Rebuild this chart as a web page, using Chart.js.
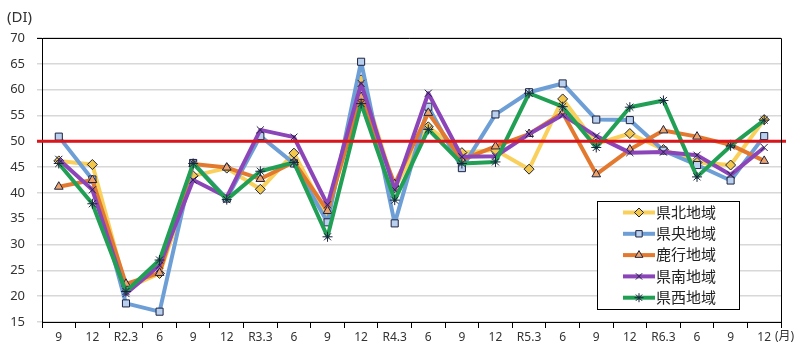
<!DOCTYPE html>
<html lang="ja">
<head>
<meta charset="utf-8">
<title>地域別DI</title>
<script src="https://cdn.jsdelivr.net/npm/chart.js@4.4.1/dist/chart.umd.min.js"></script>
<style>
  html, body { margin:0; padding:0; background:#fff; }
  #wrap { width:800px; height:350px; }
</style>
</head>
<body>
<div id="wrap"><canvas id="diChart" width="800" height="350"></canvas></div>
<script>

// ======================================
// DATA
// ======================================
const periods = ['9','12','R2.3','6','9','12','R3.3','6','9','12','R4.3','6','9','12','R5.3','6','9','12','R6.3','6','9','12'];

const kenpoku  = [46.2,45.5,21.5,24.4,43.3,44.8,40.7,47.7,35.5,61.9,41.0,52.8,47.8,48.3,44.6,58.2,49.5,51.5,48.4,45.9,45.4,54.2];
const kenou    = [50.9,42.6,18.6,17.0,45.8,38.9,51.0,45.7,34.3,65.4,34.1,56.7,44.8,55.2,59.5,61.2,54.2,54.1,48.2,45.4,42.4,51.0];
const rokkou   = [41.2,42.5,22.4,24.5,45.6,44.9,42.7,46.0,36.5,58.6,41.7,55.5,46.4,49.0,51.4,55.5,43.6,48.4,52.1,50.9,49.3,46.2];
const kennan   = [46.5,40.6,20.5,26.0,42.5,39.2,52.2,50.8,37.7,61.2,40.6,59.3,47.0,47.1,51.4,55.1,51.0,47.8,47.9,47.3,43.5,48.8];
const kensei   = [45.7,37.9,20.9,27.0,45.7,38.7,44.2,45.9,31.5,57.3,38.6,52.3,45.7,46.0,59.3,56.7,48.8,56.6,57.9,43.1,49.1,54.1];

const yTicks = [15,20,25,30,35,40,45,50,55,60,65,70];
const baseLine = 50;

const FONT = "'Noto Sans', 'Noto Sans CJK JP', sans-serif";

// ======================================
// SERIES
// ======================================
function series(label, data, color, style, fill, order){
  return {
    label,
    data,
    borderColor:color,
    backgroundColor:color,
    borderWidth:4,
    borderJoinStyle:'round',
    pointStyle:style,
    pointRadius:5,
    pointBorderWidth:1,
    pointBackgroundColor:fill,
    pointBorderColor:'#1d2240',
    tension:0,
    order
  };
}

const datasets = [
  series('県北地域', kenpoku, '#f9d05c', 'rectRot', '#f3c74a', 4),
  series('県央地域', kenou,   '#6d9fd6', 'rect',    '#b9d1ee', 3),
  series('鹿行地域', rokkou,  '#e3792f', 'triangle','#eda36a', 2),
  series('県南地域', kennan,  '#8b45b8', 'crossRot','#8b45b8', 1),
  series('県西地域', kensei,  '#21a055', 'star',    '#21a055', 0)
];

// ======================================
// PLUGINS
// ======================================
const framePlugin = {
  id:'frame',
  afterDatasetsDraw(chart){
    const {ctx, chartArea:a, scales:{y}} = chart;
    const yy = y.getPixelForValue(baseLine);

    ctx.save();

    // red reference line
    ctx.strokeStyle = '#d9161c';
    ctx.lineWidth = 3;
    ctx.beginPath();
    ctx.moveTo(a.left - 5, yy);
    ctx.lineTo(a.right + 5, yy);
    ctx.stroke();

    // top and right border
    ctx.strokeStyle = '#000';
    ctx.lineWidth = 1;
    ctx.beginPath();
    ctx.moveTo(a.left - 5, Math.round(a.top) + 0.5);
    ctx.lineTo(Math.round(a.right) + 0.5, Math.round(a.top) + 0.5);
    ctx.lineTo(Math.round(a.right) + 0.5, a.bottom);
    ctx.stroke();

    // axis captions
    ctx.fillStyle = '#333';
    ctx.font = `15px ${FONT}`;
    ctx.textBaseline = 'middle';
    ctx.textAlign = 'left';
    ctx.fillText('(DI)', 7, 18);
    ctx.font = `12px ${FONT}`;
    ctx.fillText('(月)', 775, 337);

    ctx.restore();
  },
  afterDraw(chart){
    const {ctx} = chart;
    const box = {x:597, y:201, w:142, h:108};

    ctx.save();
    ctx.fillStyle = '#fff';
    ctx.fillRect(box.x, box.y, box.w, box.h);
    ctx.strokeStyle = '#000';
    ctx.lineWidth = 1;
    ctx.strokeRect(box.x + 0.5, box.y + 0.5, box.w, box.h);

    chart.data.datasets.forEach((ds, i)=>{
      const cy = 212.5 + i * 21.3;

      ctx.strokeStyle = ds.borderColor;
      ctx.lineWidth = 4;
      ctx.beginPath();
      ctx.moveTo(623, cy);
      ctx.lineTo(655, cy);
      ctx.stroke();

      ctx.fillStyle = ds.pointBackgroundColor;
      ctx.strokeStyle = ds.pointBorderColor;
      ctx.lineWidth = 1;
      Chart.helpers.drawPoint(ctx, {
        pointStyle:ds.pointStyle,
        radius:4.5,
        rotation:0,
        borderWidth:1
      }, 639, cy);

      ctx.fillStyle = '#222';
      ctx.font = `15px ${FONT}`;
      ctx.textAlign = 'left';
      ctx.textBaseline = 'middle';
      ctx.fillText(ds.label, 656, cy + 1);
    });

    ctx.restore();
  }
};

// ======================================
// CHART
// ======================================
const ctx = document.getElementById('diChart');

new Chart(ctx, {

  type:'line',

  data:{
    labels:periods,
    datasets
  },

  options:{
    responsive:false,
    animation:false,

    layout:{
      padding:{ top:38, right:19, left:0, bottom:0 }
    },

    plugins:{
      legend:{ display:false },
      tooltip:{ enabled:false }
    },

    scales:{

      x:{
        offset:true,
        grid:{
          offset:true,
          drawOnChartArea:false,
          color:'#000',
          tickLength:6
        },
        border:{ color:'#000', width:1 },
        ticks:{
          color:'#333',
          padding:2,
          maxRotation:0,
          autoSkip:false,
          font:{ family:FONT, size:12 }
        },
        afterFit(scale){ scale.height = 28; }
      },

      y:{
        min:15,
        max:70,
        afterBuildTicks(scale){
          scale.ticks = yTicks.map(v => ({ value:v }));
        },
        grid:{
          color:'#d8d8d8',
          lineWidth:1.5,
          tickLength:5
        },
        border:{ color:'#000', width:1 },
        ticks:{
          color:'#333',
          padding:12,
          font:{ family:FONT, size:13 }
        },
        afterFit(scale){ scale.width = 42; }
      }
    }
  },

  plugins:[framePlugin]
});

</script>
</body>
</html>
